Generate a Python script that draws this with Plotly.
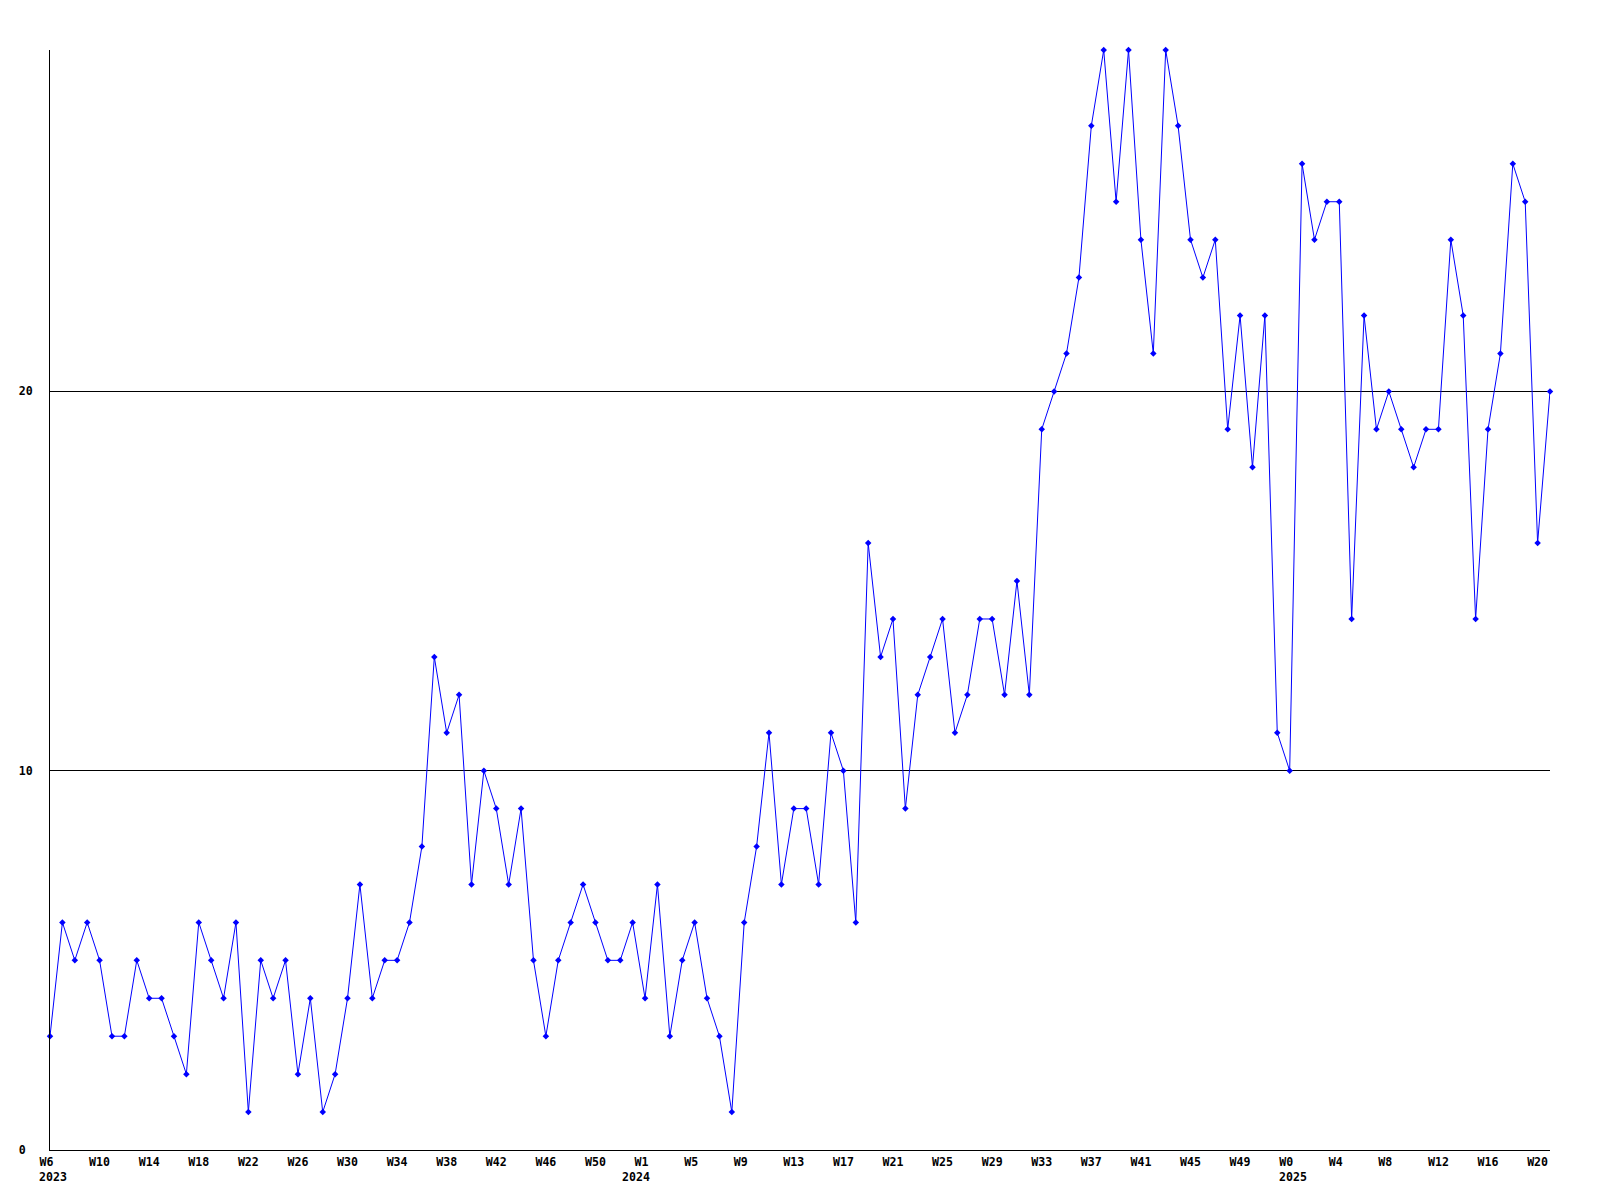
import plotly.graph_objects as go

# Week categories (year, week number)
weeks_2023 = list(range(6, 54))   # W6 .. W53
weeks_2024 = list(range(1, 53))   # W1 .. W52
weeks_2025 = list(range(0, 22))   # W0 .. W21

values = [
    3, 6, 5, 6, 5, 3, 3, 5, 4, 4, 3, 2, 6, 5, 4, 6, 1, 5, 4, 5,
    2, 4, 1, 2, 4, 7, 4, 5, 5, 6, 8, 13, 11, 12, 7, 10, 9, 7, 9, 5,
    3, 5, 6, 7, 6, 5, 5, 6, 4, 7, 3, 5, 6, 4, 3, 1, 6, 8, 11, 7,
    9, 9, 7, 11, 10, 6, 16, 13, 14, 9, 12, 13, 14, 11, 12, 14, 14, 12, 15, 12,
    19, 20, 21, 23, 27, 29, 25, 29, 24, 21, 29, 27, 24, 23, 24, 19, 22, 18, 22, 11,
    10, 26, 24, 25, 25, 14, 22, 19, 20, 19, 18, 19, 19, 24, 22, 14, 19, 21, 26, 25,
    16, 20,
]

y_ticks = [0, 10, 20]
tick_step = 4

week_labels = ([f"W{w}" for w in weeks_2023] + [f"W{w}" for w in weeks_2024]
               + [f"W{w}" for w in weeks_2025])
years = ["2023", "2024", "2025"]
year_start = [0, len(weeks_2023), len(weeks_2023) + len(weeks_2024)]
year_shift = [-13, -25, -13]

x = list(range(len(values)))
tickvals = x[::tick_step]
ticktext = [week_labels[i].ljust(3).replace(" ", "\u00a0") for i in tickvals]

FONT = dict(family="DejaVu Sans Mono", size=11.6, color="black")

fig = go.Figure()
fig.add_trace(go.Scatter(
    x=x, y=values, mode="lines+markers",
    line=dict(color="#0000ff", width=1),
    marker=dict(symbol="diamond", size=5, color="#0000ff"),
    cliponaxis=False, showlegend=False, hoverinfo="skip",
))

for yr, s, sh in zip(years, year_start, year_shift):
    fig.add_annotation(
        x=s, xref="x", y=-27 / 1100, yref="paper", text=f"<b>{yr}</b>",
        showarrow=False, xanchor="left", yanchor="middle", xshift=sh,
        font=FONT,
    )

fig.update_layout(
    width=1584, height=1184,
    margin=dict(l=42, r=42, t=42, b=42),
    paper_bgcolor="white", plot_bgcolor="white",
    font=FONT,
)
fig.update_xaxes(
    range=[0, len(values) - 1], tickvals=tickvals,
    ticktext=[f"<b>{t}</b>" for t in ticktext],
    showgrid=False, zeroline=False, showline=True, linecolor="black",
    linewidth=1, ticks="", tickfont=FONT, ticklabelstandoff=1,
)
fig.update_yaxes(
    range=[0, 29], tickvals=y_ticks,
    ticktext=[f"<b>{str(v).ljust(2).replace(' ', chr(160))}</b>" for v in y_ticks],
    showgrid=True, gridcolor="black", gridwidth=1, zeroline=False,
    showline=True, linecolor="black", linewidth=1, ticks="",
    tickfont=FONT, ticklabelstandoff=14,
)

fig.write_html("out.html")
